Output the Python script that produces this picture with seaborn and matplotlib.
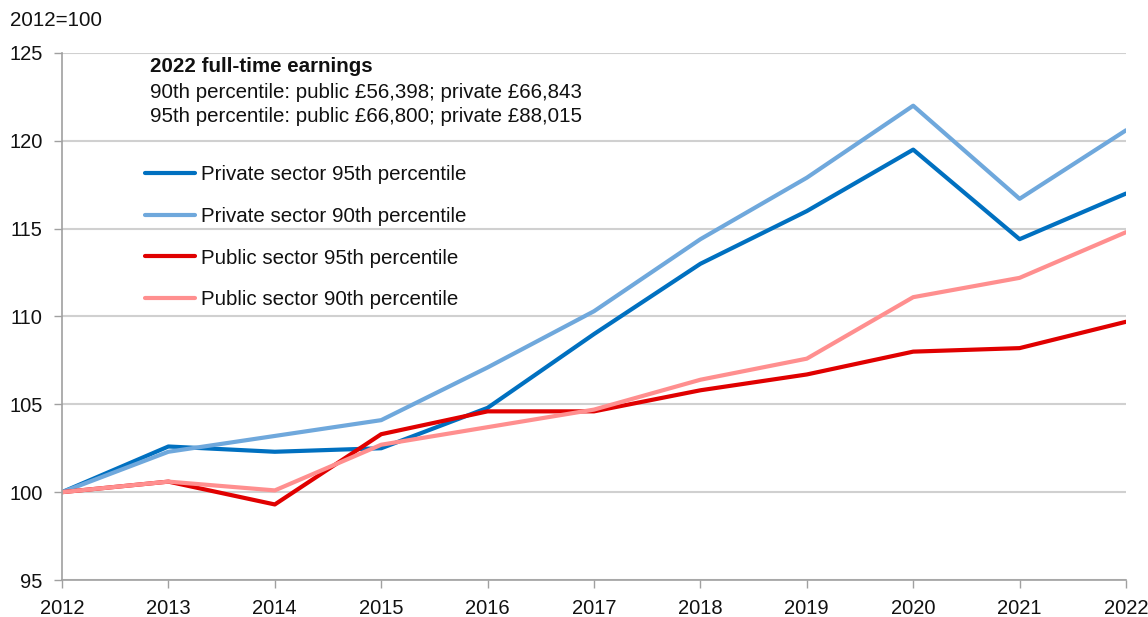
import numpy as np
import pandas as pd
import seaborn as sns
import matplotlib
matplotlib.use('Agg')
import matplotlib.pyplot as plt

# data (index, 2012=100)
years = [2012, 2013, 2014, 2015, 2016, 2017, 2018, 2019, 2020, 2021, 2022]
private_95 = [100, 102.6, 102.3, 102.5, 104.8, 109.0, 113.0, 116.0, 119.5, 114.4, 117.0]
private_90 = [100, 102.3, 103.2, 104.1, 107.1, 110.3, 114.4, 117.9, 122.0, 116.7, 120.6]
public_95 = [100, 100.6, 99.3, 103.3, 104.6, 104.6, 105.8, 106.7, 108.0, 108.2, 109.7]
public_90 = [100, 100.6, 100.1, 102.7, 103.7, 104.7, 106.4, 107.6, 111.1, 112.2, 114.8]

series_names = ['Private sector 95th percentile', 'Private sector 90th percentile',
                'Public sector 95th percentile', 'Public sector 90th percentile']
colours = ['#0070C0', '#6FA8DC', '#E00000', '#FF8F8F']

df = pd.DataFrame({'year': years,
                   series_names[0]: private_95,
                   series_names[1]: private_90,
                   series_names[2]: public_95,
                   series_names[3]: public_90})
long_df = df.melt(id_vars='year', var_name='series', value_name='index')

sns.set_style('white')
plt.rcParams['font.family'] = ['Liberation Sans', 'DejaVu Sans']

FS = 14.8

fig = plt.figure(figsize=(11.48, 6.17), dpi=100)
ax = fig.add_axes([62/1148, 1 - 580/617, (1126-62)/1148, (580-53)/617])

sns.lineplot(data=long_df, x='year', y='index', hue='series', hue_order=series_names,
             palette=colours, linewidth=3, ax=ax, legend=True)

ax.set_xlim(2012, 2022)
ax.set_ylim(95, 125)
ax.set_xticks(years)
ax.set_yticks([95, 100, 105, 110, 115, 120, 125])
ax.set_xlabel('')
ax.set_ylabel('')
ax.tick_params(axis='both', labelsize=14.5, labelcolor='#111111', color='#a0a0a0',
               length=6, width=1, direction='out', left=True, bottom=True)
ax.tick_params(axis='x', pad=8)
ax.tick_params(axis='y', pad=8)

ax.grid(axis='y', color='#d0d0d0', linewidth=1.5)
ax.set_axisbelow(True)
for s in ['top', 'right']:
    ax.spines[s].set_visible(False)
for s in ['left', 'bottom']:
    ax.spines[s].set_color('#a0a0a0')
    ax.spines[s].set_linewidth(1.2)

leg = ax.legend(loc='upper left', bbox_to_anchor=(0.0703, 0.803), frameon=False,
                fontsize=FS, handlelength=2.43, handletextpad=0.3, labelspacing=1.11,
                borderaxespad=0)
for h in leg.get_lines():
    h.set_linewidth(3)
for t in leg.get_texts():
    t.set_color('#111111')

fig.text(150/1148, 1 - 67/617, '2022 full-time earnings', fontsize=FS,
         fontweight='bold', va='center', color='#111111')
fig.text(150/1148, 1 - 92/617, '90th percentile: public £56,398; private £66,843',
         fontsize=FS, va='center', color='#111111')
fig.text(150/1148, 1 - 117/617, '95th percentile: public £66,800; private £88,015',
         fontsize=FS, va='center', color='#111111')
fig.text(10/1148, 1 - 20/617, '2012=100', fontsize=FS, va='center', color='#111111')

fig.savefig('out.png', dpi=100)
